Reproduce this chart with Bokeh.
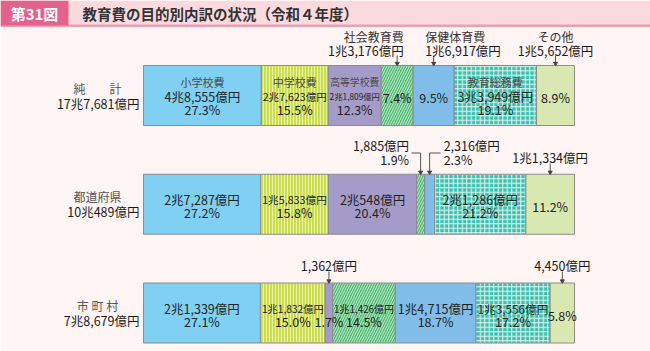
from bokeh.plotting import figure
from bokeh.models import Range1d, BoxAnnotation, ColumnDataSource
from bokeh.core.properties import value
from bokeh.embed import file_html
from bokeh.resources import INLINE

# ---------------- data ----------------
fig_no = "第31図"
title = "教育費の目的別内訳の状況（令和４年度）"
categories = ["小学校費", "中学校費", "高等学校費", "社会教育費", "保健体育費", "教育総務費", "その他"]
groups = ["純　　計", "都道府県", "市 町 村"]
group_totals = [177681, 100489, 78679]          # 億円
net_total = [48555, 27623, 21809, 13176, 16917, 33949, 15652]
prefectures = [27287, 15833, 20548, 1885, 2316, 21286, 11334]
municipalities = [21339, 11832, 1362, 11426, 14715, 13556, 4450]
pct_net = [27.3, 15.5, 12.3, 7.4, 9.5, 19.1, 8.9]
pct_pref = [27.2, 15.8, 20.4, 1.9, 2.3, 21.2, 11.2]
pct_muni = [27.1, 15.0, 1.7, 14.5, 18.7, 17.2, 5.8]

rows = [net_total, prefectures, municipalities]
pcts = [pct_net, pct_pref, pct_muni]

# ---------------- style ----------------
FONT = value("Noto Sans CJK JP")
BG = "#fff5f4"
fills = ["#7fd0f2", "#cadc4c", "#a59bc9", "#4fba72", "#80bde9", "#3cc1b0", "#d9e8b0"]
hatches = [None, "vertical_line", None, "right_diagonal_line", None, "cross", None]
hatch_cols = [None, "#eaf3a8", None, "#c8ecd2", None, "#d8f2ec", None]
hatch_scales = [None, 3, None, 5, None, 4.5, None]
hatch_weights = [None, 1.1, None, 1.0, None, 1.1, None]

X0, X1 = 143.0, 574.0          # pixel extent of a 100% bar
PXU = (X1 - X0) / 100.0
ROW0, ROWSTEP, BARPX = 95.0, 108.75, 60.0


def X(px):
    return (px - X0) / PXU


def Y(py):
    return (py - ROW0) / ROWSTEP


def fmt(v):
    c, r = divmod(v, 10000)
    return f"{c}兆{r:,}億円" if c else f"{r:,}億円"


def est_w(s):
    w = 0.0
    for ch in s:
        if ord(ch) > 0x2000:
            w += 1.0
        elif ch in ",.":
            w += 0.3
        elif ch == "%":
            w += 0.9
        else:
            w += 0.57
    return w


p = figure(width=650, height=351, x_range=Range1d(X(0), X(650)),
           y_range=Range1d(Y(351), Y(0)), output_backend="svg",
           toolbar_location=None, min_border=0, x_axis_location=None,
           y_axis_location=None, background_fill_color=BG,
           border_fill_color=BG, outline_line_color=None)
p.xgrid.grid_line_color = None
p.ygrid.grid_line_color = None

# header
for l, r_, t, b, c in [(0, 650, 0, 25, "#fadadf"), (0, 650, 24, 26.5, "#e7a0b4"),
                       (0, 68, 0, 25, "#e3618b")]:
    p.add_layout(BoxAnnotation(left=X(l), right=X(r_), top=Y(t), bottom=Y(b),
                               fill_color=c, fill_alpha=1, line_color=None,
                               level="underlay"))

# geometry of bars from data
lefts, rights = [], []
for vals in rows:
    s = float(sum(vals))
    acc, L, R = 0.0, [], []
    for v in vals:
        L.append(acc / s * 100)
        acc += v
        R.append(acc / s * 100)
    lefts.append(L)
    rights.append(R)

for k, cat in enumerate(categories):
    src = ColumnDataSource(dict(y=[0, 1, 2], left=[lefts[r][k] for r in range(3)],
                                right=[rights[r][k] for r in range(3)]))
    kw = dict(y="y", left="left", right="right", height=BARPX / ROWSTEP, source=src,
              fill_color=fills[k], line_color="#8c8c8c", line_width=1)
    if hatches[k]:
        kw.update(hatch_pattern=hatches[k], hatch_color=hatch_cols[k],
                  hatch_scale=hatch_scales[k], hatch_weight=hatch_weights[k])
    p.hbar(**kw)

# text collection
texts = {}


def add_text(x, y, t, size, color="#222222", align="center", style="normal"):
    key = (align, style)
    d = texts.setdefault(key, dict(x=[], y=[], t=[], s=[], c=[]))
    d["x"].append(x); d["y"].append(y); d["t"].append(t)
    d["s"].append(f"{size:.1f}px"); d["c"].append(color)


lead_x0, lead_y0, lead_x1, lead_y1 = [], [], [], []
arr_x, arr_y = [], []


def center(r, k):
    return (lefts[r][k] + rights[r][k]) / 2


def width_px(r, k):
    return (rights[r][k] - lefts[r][k]) * PXU


def arrow_down(cx, y_from_px, y_to_px):
    lead_x0.append(cx); lead_y0.append(Y(y_from_px))
    lead_x1.append(cx); lead_y1.append(Y(y_to_px))
    arr_x.append(cx); arr_y.append(Y(y_to_px - 1))


# row labels
for r in range(3):
    yc = ROW0 + ROWSTEP * r
    add_text(X(97), Y(yc - 7.5), groups[r], 12, "#555555", "center")
    add_text(X(139), Y(yc + 7.5), fmt(group_totals[r]), 12.5, "#1a1a1a", "right")

# inside labels
modes = [["full", "full", "full", "pct", "pct", "full", "pct"],
         ["two", "two", "two", None, None, "two", "pct"],
         ["two", "two", "pct2", "two", "two", "two", "pct"]]
for r in range(3):
    yc = ROW0 + ROWSTEP * r
    for k in range(7):
        m = modes[r][k]
        cx = center(r, k)
        w = width_px(r, k)
        amt = fmt(rows[r][k])
        pct = f"{pcts[r][k]:.1f}%"
        asz = min(12.5, (w - 2) / est_w(amt))
        if m == "full":
            nsz = min(11.0, (w - 4) / est_w(categories[k]))
            add_text(cx, Y(yc - 13.5), categories[k], nsz, "#4a4a4a")
            add_text(cx, Y(yc + 0.5), amt, asz)
            add_text(cx, Y(yc + 13.5), pct, 12.5)
        elif m == "two":
            add_text(cx, Y(yc - 4.5), amt, asz)
            add_text(cx, Y(yc + 8.5), pct, 12.5)
        elif m == "pct":
            add_text(cx, Y(yc + 2), pct, 12.5)
        elif m == "pct2":
            add_text(cx, Y(yc + 8.5), pct, 12.5)

# callouts, row 0 (above the bar)
top0 = ROW0 - BARPX / 2
for k, align, off in [(3, "right", 6.5), (4, "left", -8.5), (6, "center", 0)]:
    cx = center(0, k)
    tx = cx + off / PXU
    add_text(tx, Y(36), categories[k], 12, "#333333", align)
    add_text(tx, Y(49.5), fmt(rows[0][k]), 12.5, "#1a1a1a", align)
    arrow_down(cx, 55, top0 - 1)

# row 1 callouts
top1 = ROW0 + ROWSTEP - BARPX / 2
for k, align, off in [(3, "right", -11.5), (4, "left", 14)]:
    cx = center(1, k)
    tx = cx + off / PXU
    add_text(tx, Y(145), fmt(rows[1][k]), 12.5, "#1a1a1a", align)
    add_text(tx, Y(158.5), f"{pcts[1][k]:.1f}%", 12.5, "#1a1a1a", align)
    hx = cx + (off * 0.78) / PXU
    lead_x0.append(hx); lead_y0.append(Y(152.5)); lead_x1.append(cx); lead_y1.append(Y(152.5))
    arrow_down(cx, 152.5, top1 - 1)
cx = center(1, 6)
add_text(cx, Y(157), fmt(rows[1][6]), 12.5, "#1a1a1a", "center")
arrow_down(cx, 163, top1 - 1)

# row 2 callouts
top2 = ROW0 + 2 * ROWSTEP - BARPX / 2
for k in (2, 6):
    cx = center(2, k)
    add_text(cx, Y(265), fmt(rows[2][k]), 12.5, "#1a1a1a", "center")
    arrow_down(cx, 271, top2 - 1)

p.segment(x0=lead_x0, y0=lead_y0, x1=lead_x1, y1=lead_y1, line_color="#555555", line_width=1)
p.scatter(x=arr_x, y=arr_y, marker="inverted_triangle", size=4, color="#444444")

# header texts
add_text(X(34), Y(13), fig_no, 15, "#ffffff", "center", "bold")
add_text(X(82), Y(13), title, 14.5, "#333333", "left", "bold")

for (align, style), d in texts.items():
    src = ColumnDataSource(d)
    p.text(x="x", y="y", text="t", source=src, text_font=FONT, text_font_size="s",
           text_color="c", text_align=align, text_baseline="middle",
           text_font_style=style)

open("out.html", "w").write(file_html(p, INLINE))
